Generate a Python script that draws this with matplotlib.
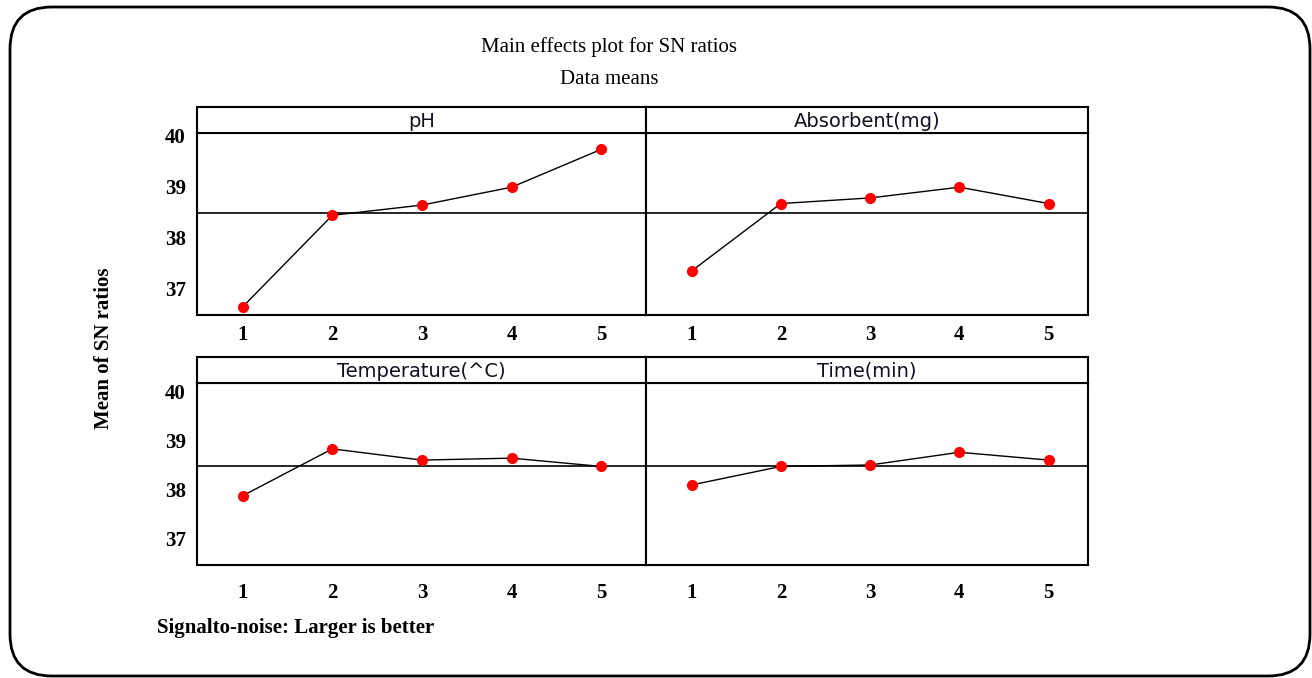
import numpy as np
import matplotlib
matplotlib.use('Agg')
import matplotlib.pyplot as plt
from matplotlib.patches import FancyBboxPatch

# factor levels and mean SN ratios
levels = [1, 2, 3, 4, 5]
factors = ['pH', 'Absorbent(mg)', 'Temperature(^C)', 'Time(min)']
sn_ph = [36.64, 38.43, 38.63, 38.98, 39.72]
sn_absorbent = [37.34, 38.66, 38.77, 38.98, 38.66]
sn_temperature = [37.87, 38.83, 38.60, 38.64, 38.47]
sn_time = [38.09, 38.47, 38.50, 38.76, 38.60]
yticks = [37, 38, 39, 40]

series = [sn_ph, sn_absorbent, sn_temperature, sn_time]

W, H = 1312, 678
fig = plt.figure(figsize=(W / 100, H / 100), dpi=100)

serif = 'Liberation Serif'

# rounded frame around everything
bg = fig.add_axes([0, 0, 1, 1])
bg.set_xlim(0, W)
bg.set_ylim(H, 0)
bg.axis('off')
bg.add_patch(FancyBboxPatch((10, 7), 1300, 669, boxstyle='round,pad=0,rounding_size=42',
                            fc='white', ec='black', lw=2))


def fig_box(x0, y0, x1, y1):
    # pixel box (top-left origin) -> figure rect
    return [x0 / W, 1 - y1 / H, (x1 - x0) / W, (y1 - y0) / H]


# panel geometry in pixels: (x0, x1) per column, (top, header line, bottom) per row
cols = [(197, 646), (646, 1088)]
rows = [(107, 133, 315), (357, 383, 565)]
xlims = [(0.49, 5.50), (0.49, 5.44)]
ylims = [(36.48, 40.04), (36.45, 40.18)]

for i, (name, vals) in enumerate(zip(factors, series)):
    r, c = divmod(i, 2)
    x0, x1 = cols[c]
    top, hline, bot = rows[r]

    ax = fig.add_axes(fig_box(x0, hline, x1, bot))
    ax.plot(levels, vals, color='black', lw=1.0, zorder=2)
    ax.plot(levels, vals, 'o', color='red', ms=7, mec='red', zorder=3)
    ax.axhline(np.mean(vals), color='black', lw=1.2, zorder=1)
    ax.set_xlim(*xlims[c])
    ax.set_ylim(*ylims[r])
    ax.set_xticks(levels)
    ax.set_xticklabels([str(v) for v in levels], fontfamily=serif, fontweight='bold', fontsize=15)
    ax.set_yticks(yticks)
    if c == 0:
        ax.set_yticklabels([str(v) for v in yticks], fontfamily=serif, fontweight='bold', fontsize=15)
    else:
        ax.set_yticklabels([])
    ax.tick_params(axis='both', length=0)
    ax.tick_params(axis='x', pad=7 if r == 0 else 13)
    ax.tick_params(axis='y', pad=8)
    for s in ax.spines.values():
        s.set_linewidth(1.5)

    hx = fig.add_axes(fig_box(x0, top, x1, hline))
    hx.set_xticks([])
    hx.set_yticks([])
    for s in hx.spines.values():
        s.set_linewidth(1.5)
    hx.text(0.5, 0.45, name, ha='center', va='center', fontsize=14,
            fontfamily='DejaVu Sans', color='#111122', transform=hx.transAxes)

fig.text(609 / W, 1 - 47 / H, 'Main effects plot for SN ratios', ha='center', va='center',
         fontfamily=serif, fontsize=15)
fig.text(609 / W, 1 - 79 / H, 'Data means', ha='center', va='center',
         fontfamily=serif, fontsize=15)
fig.text(104 / W, 1 - 348 / H, 'Mean of SN ratios', ha='center', va='center', rotation=90,
         fontfamily=serif, fontweight='bold', fontsize=15)
fig.text(157 / W, 1 - 628 / H, 'Signalto-noise: Larger is better', ha='left', va='center',
         fontfamily=serif, fontweight='bold', fontsize=15)

fig.savefig('out.png', dpi=100)
